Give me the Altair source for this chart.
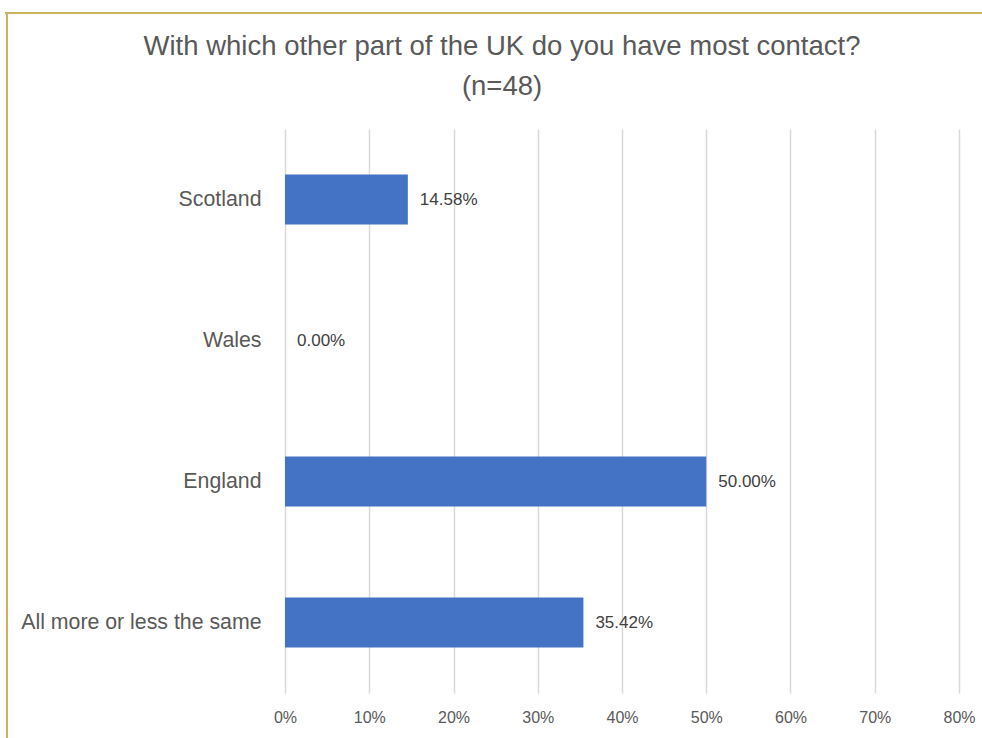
import altair as alt
import pandas as pd

categories = ["Scotland", "Wales", "England", "All more or less the same"]
values = [0.1458, 0.0, 0.50, 0.3542]
labels = ["14.58%", "0.00%", "50.00%", "35.42%"]
tick_values = [0, 0.1, 0.2, 0.3, 0.4, 0.5, 0.6, 0.7, 0.8]
title_lines = ["With which other part of the UK do you have most contact?", "(n=48)"]

df = pd.DataFrame({"cat": categories, "val": values, "lab": labels})
title_df = pd.DataFrame({"t": title_lines, "row": [0, 1]})

FONT = "Liberation Sans"
GREY = "#595959"

y_enc = alt.Y("cat:N", sort=categories, title=None,
              scale=alt.Scale(paddingInner=0.645, paddingOuter=0.3225),
              axis=alt.Axis(domain=False, ticks=False, labelFontSize=21.3, labelColor=GREY,
                            labelFont=FONT, labelPadding=24, labelLimit=300))
x_enc = alt.X("val:Q", title=None,
              scale=alt.Scale(domain=[0, 0.8], nice=False),
              axis=alt.Axis(values=tick_values, format=".0%", domain=False, ticks=False,
                            grid=True, gridColor="#D9D9D9", gridWidth=1.5,
                            labelFontSize=16, labelColor=GREY, labelFont=FONT,
                            labelPadding=16, labelFlush=False))

bars = alt.Chart(df).mark_bar(color="#4472C4").encode(x=x_enc, y=y_enc)
text = alt.Chart(df).mark_text(align="left", dx=12, fontSize=17, color="#404040", font=FONT).encode(
    x="val:Q", y=alt.Y("cat:N", sort=categories), text="lab:N")

title0 = alt.Chart(title_df).transform_filter("datum.row == 0").mark_text(
    fontSize=27.5, font=FONT, color=GREY, align="center", baseline="middle").encode(
    x=alt.value(217), y=alt.value(-82), text="t:N")
title1 = alt.Chart(title_df).transform_filter("datum.row == 1").mark_text(
    fontSize=27.5, font=FONT, color=GREY, align="center", baseline="middle").encode(
    x=alt.value(217), y=alt.value(-42), text="t:N")

border_top = alt.Chart(df).mark_rule(color="#C9B45C", strokeWidth=2).encode(
    x=alt.value(-280), x2=alt.value(700), y=alt.value(-116))
border_left = alt.Chart(df).mark_rule(color="#C9B45C", strokeWidth=2).encode(
    x=alt.value(-278), y=alt.value(-116), y2=alt.value(620))

chart = alt.layer(bars, text, title0, title1, border_top, border_left).properties(
    width=674, height=564,
    autosize=alt.AutoSizeParams(type="none"),
    padding={"left": 285, "top": 129, "right": 23, "bottom": 45},
).configure_view(stroke=None)

chart.save("out.html", embed_options={"renderer": "svg", "actions": False})
